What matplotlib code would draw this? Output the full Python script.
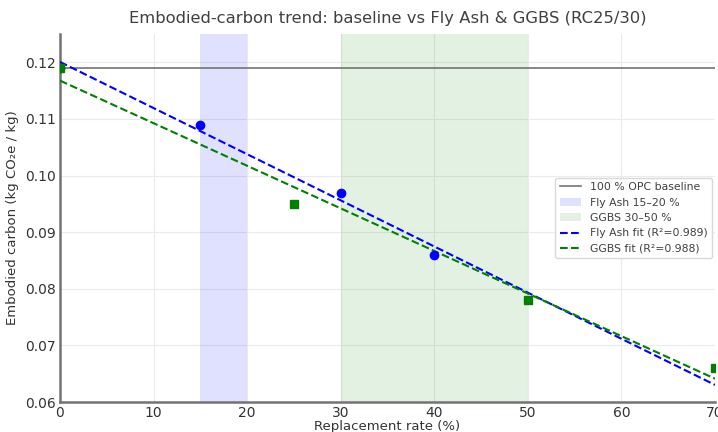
import numpy as np
import matplotlib
matplotlib.use("Agg")
import matplotlib.pyplot as plt

# data
baseline = 0.119
fa_rate = [0, 15, 30, 40]
fa_carbon = [0.119, 0.109, 0.097, 0.086]
gg_rate = [0, 25, 50, 70]
gg_carbon = [0.119, 0.095, 0.078, 0.066]

fig = plt.figure(figsize=(7.18, 4.32), dpi=100)
ax = fig.add_axes([60 / 718, 30 / 432, 655 / 718, 368 / 432])

ax.axhline(baseline, color="0.45", lw=1.2, label="100 % OPC baseline", zorder=2)
ax.axvspan(15, 20, color="blue", alpha=0.12, lw=0, label="Fly Ash 15–20 %")
ax.axvspan(30, 50, color="green", alpha=0.11, lw=0, label="GGBS 30–50 %")

ax.plot(fa_rate, fa_carbon, "o", color="blue", ms=6, zorder=4)
ax.plot(gg_rate, gg_carbon, "s", color="green", ms=6, zorder=4)

xs = np.linspace(0, 70, 50)
fa_fit = np.polyfit(fa_rate, fa_carbon, 1)
gg_fit = np.polyfit(gg_rate, gg_carbon, 1)
ax.plot(xs, np.polyval(fa_fit, xs), "--", color="blue", lw=1.5,
        label="Fly Ash fit (R²=0.989)", zorder=3)
ax.plot(xs, np.polyval(gg_fit, xs), "--", color="green", lw=1.5,
        label="GGBS fit (R²=0.988)", zorder=3)

ax.set_xlim(0, 70)
ax.set_ylim(0.06, 0.125)
ax.set_yticks([0.06, 0.07, 0.08, 0.09, 0.10, 0.11, 0.12])
ax.set_yticklabels(["0.06", "0.07", "0.08", "0.09", "0.10", "0.11", "0.12"])
ax.grid(True, color="0.92", lw=0.8)
ax.set_axisbelow(True)
for s in ["top", "right"]:
    ax.spines[s].set_visible(False)
for s in ["left", "bottom"]:
    ax.spines[s].set_color("0.45")
    ax.spines[s].set_linewidth(1.8)
ax.tick_params(colors="0.2", labelsize=10, length=0, pad=3)

ax.set_title("Embodied-carbon trend: baseline vs Fly Ash & GGBS (RC25/30)",
             fontsize=11.8, color="0.25", pad=8)
ax.set_xlabel("Replacement rate (%)", fontsize=9.5, color="0.2", labelpad=0)
ax.set_ylabel("Embodied carbon (kg CO₂e / kg)", fontsize=9.5, color="0.2")

leg = ax.legend(loc="center right", fontsize=7.8, framealpha=1,
                edgecolor="0.85", bbox_to_anchor=(1.004, 0.5))
for t in leg.get_texts():
    t.set_color("0.25")

fig.savefig("out.png", dpi=100)
